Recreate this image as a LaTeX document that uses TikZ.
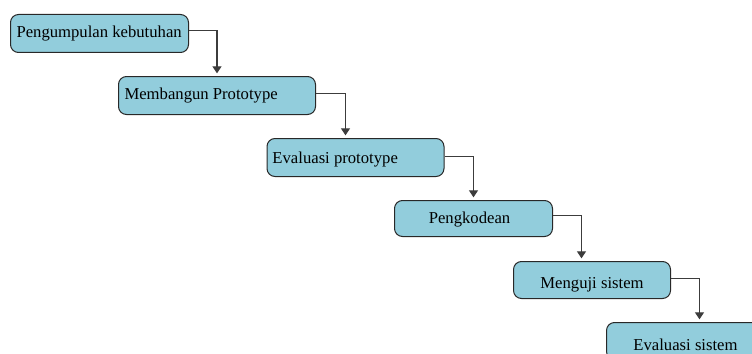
\documentclass[tikz,border=0pt]{standalone}
\usepackage{fontspec}
\setmainfont{Liberation Serif}
\usetikzlibrary{arrows.meta}
\definecolor{boxfill}{RGB}{146,205,220}
\definecolor{boxline}{RGB}{40,40,40}
\definecolor{connline}{RGB}{60,60,60}
\begin{document}
\begin{tikzpicture}[x=0.75pt,y=-0.75pt,
  stagebox/.style={draw=boxline, fill=boxfill, rounded corners=6pt, line width=0.75pt,
    inner sep=0pt, anchor=north west, font=\fontsize{12.5}{14}\selectfont},
  conn/.style={draw=connline, line width=0.8pt,
    -{Triangle[width=6.75pt,length=5.25pt]}, shorten >=2pt}]
\useasboundingbox (0,0) rectangle (752,353);
\clip (0,0) rectangle (752,353);
\node[stagebox, text height=17.5pt, text depth=11pt] (b1) at (10,14)
  {\makebox[133.5pt][l]{\hspace{4.5pt}Pengumpulan kebutuhan}};
\node[stagebox, text height=17.5pt, text depth=11pt] (b2) at (118,76)
  {\makebox[147.75pt][l]{\hspace{4.5pt}Membangun Prototype}};
\node[stagebox, text height=18.75pt, text depth=9.75pt] (b3) at (266.5,138)
  {\makebox[132.75pt][l]{\hspace{4.1pt}Evaluasi prototype}};
\node[stagebox, text height=17pt, text depth=10pt] (b4) at (394,200)
  {\makebox[118.5pt][c]{Pengkodean\hspace{6pt}}};
\node[stagebox, text height=20pt, text depth=7.75pt] (b5) at (513,261)
  {\makebox[117.75pt][c]{Menguji sistem}};
\node[stagebox, text height=21pt, text depth=6.75pt] (b6) at (606,322)
  {\makebox[118.5pt][c]{Evaluasi sistem}};
\draw[conn] ([yshift=2.5pt]b1.east) -| (b2.north);
\draw[conn] ([yshift=1.3pt]b2.east) -| ([xshift=-7.5pt]b3.north);
\draw[conn] ([yshift=0.75pt]b3.east) -| (b4.north);
\draw[conn] ([yshift=2.5pt]b4.east) -| ([xshift=-7.9pt]b5.north);
\draw[conn] ([yshift=0.9pt]b5.east) -| ([xshift=10.5pt]b6.north);
\end{tikzpicture}
\end{document}
